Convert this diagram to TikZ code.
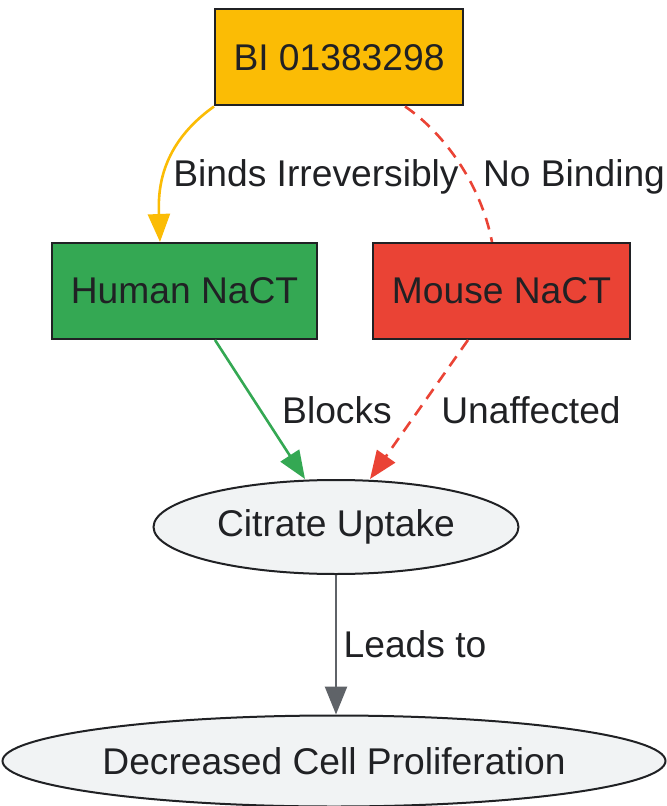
\documentclass[tikz,border=0pt]{standalone}
\usepackage{fontspec}
\setmainfont{Liberation Sans}
\usetikzlibrary{arrows.meta,shapes.geometric,calc}
\definecolor{inkdark}{HTML}{202124}
\definecolor{gyellow}{HTML}{FBBC05}
\definecolor{ggreen}{HTML}{34A853}
\definecolor{gred}{HTML}{EA4335}
\definecolor{ggray}{HTML}{5F6368}
\definecolor{gfill}{HTML}{F1F3F4}
\tikzset{
  txt/.style={text=inkdark,font=\fontsize{18.6}{22}\selectfont},
  box/.style={txt,draw=inkdark,line width=1pt,inner sep=0pt,minimum height=48pt},
  oval/.style={txt,ellipse,draw=inkdark,line width=1pt,fill=gfill,inner sep=0pt},
  lbl/.style={txt},
  link/.style={line width=1.3pt},
  tip/.style={-{Triangle[length=14pt,width=11pt]}},
}
\begin{document}
\begin{tikzpicture}[x=0.5pt,y=-0.5pt]
\useasboundingbox (0,0) rectangle (667,806);

% Compound and the two transporters
\node[box,fill=gyellow,minimum width=124pt] (bi) at (339,57.5) {BI 01383298};
\node[box,fill=ggreen,minimum width=132.5pt] (human) at (184.5,291) {Human NaCT};
\node[box,fill=gred,minimum width=128.5pt] (mouse) at (501.5,291) {Mouse NaCT};

% Process and outcome
\node[oval,minimum width=182.5pt,minimum height=47pt] (uptake) at (336,527) {Citrate Uptake};
\node[oval,minimum width=331.5pt,minimum height=45.5pt] (prolif) at (334,761) {Decreased Cell Proliferation};

% Binding edges
\draw[gyellow,link,tip] (bi.south west) .. controls (160,145) and (158,190) .. ($(human.north)+(-24.5,0)$);
\node[lbl] (lbinds) at (316,177) {Binds Irreversibly};
\draw[gred,link,dash pattern=on 6pt off 4pt] ($(bi.south)+(66,0)$) .. controls (440,130) and (480,180) .. ($(mouse.north)+(-9.5,0)$);
\node[lbl] (lnobind) at (574,177) {No Binding};

% Effect on uptake
\draw[ggreen,link,tip] ($(human.south)+(30.5,0)$) -- ($(uptake.north)+(-31,0)$);
\node[lbl] (lblocks) at (337,410) {Blocks};
\draw[gred,link,dash pattern=on 6pt off 4pt,tip] ($(mouse.south)+(-33.5,0)$) -- ($(uptake.north)+(34,0)$);
\node[lbl] (lunaff) at (531,410) {Unaffected};

% Uptake to outcome
\draw[ggray,link,tip] (uptake.south) -- (uptake.south |- prolif.north);
\node[lbl] (lleads) at (415,644) {Leads to};

\end{tikzpicture}
\end{document}
